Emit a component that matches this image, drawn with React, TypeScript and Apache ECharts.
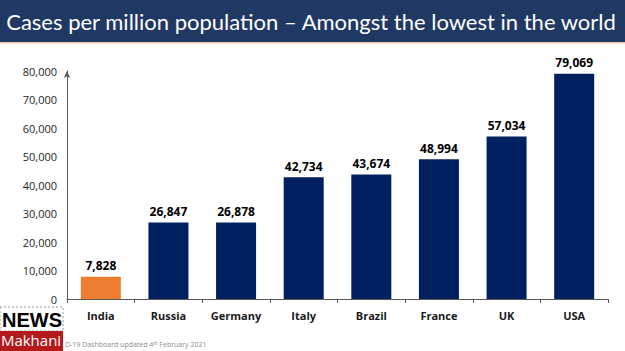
import React, { useEffect, useRef } from "react";
import * as echarts from "echarts";

const categories = ["India", "Russia", "Germany", "Italy", "Brazil", "France", "UK", "USA"];
const values = [7828, 26847, 26878, 42734, 43674, 48994, 57034, 79069];
const highlight = "India";
const titleText = "Cases per million population \u2013 Amongst the lowest in the world";

export default function App() {
  const ref = useRef<HTMLDivElement>(null);
  useEffect(() => {
    if (!ref.current) return;
    const chart = echarts.init(ref.current, undefined, { renderer: "svg" });
    chart.setOption({
      animation: false,
      backgroundColor: "#ffffff",
      grid: { left: 67, right: 17, top: 71, bottom: 52 },
      xAxis: {
        type: "category",
        data: categories,
        axisLine: { lineStyle: { color: "#595959", width: 1 } },
        axisTick: { show: true, length: 4, lineStyle: { color: "#595959" } },
        axisLabel: {
          color: "#1a1a1a",
          fontWeight: "bold",
          fontSize: 11,
          fontFamily: "Open Sans",
          margin: 11,
        },
      },
      yAxis: {
        type: "value",
        min: 0,
        max: 80000,
        interval: 10000,
        splitLine: { show: false },
        axisLine: {
          show: true,
          lineStyle: { color: "#595959", width: 1 },
          symbol: ["none", "arrow"],
          symbolSize: [5, 7],
        },
        axisTick: { show: false },
        axisLabel: {
          color: "#262626",
          fontSize: 11,
          fontFamily: "Open Sans",
          margin: 10,
          formatter: (v: number) => v.toLocaleString("en-US"),
        },
      },
      series: [
        {
          type: "bar",
          barWidth: 40,
          data: values.map((v, i) => ({
            value: v,
            itemStyle: { color: categories[i] === highlight ? "#ed7d31" : "#002060" },
          })),
          label: {
            show: true,
            position: "top",
            distance: 5,
            color: "#000000",
            fontWeight: "bold",
            fontSize: 12,
            fontFamily: "Open Sans",
            formatter: (p: any) => Number(p.value).toLocaleString("en-US"),
          },
        },
      ],
      graphic: [
        { type: "rect", shape: { x: 0, y: 0, width: 625, height: 42 }, style: { fill: "#1f3864" } },
        { type: "rect", shape: { x: 0, y: 42, width: 625, height: 1.5 }, style: { fill: "#f4c7a8" } },
        {
          type: "text",
          x: 311,
          y: 21,
          style: {
            text: titleText,
            fill: "#ffffff",
            fontSize: 22,
            fontFamily: "Lato",
            align: "center",
            verticalAlign: "middle",
          },
        },
        {
          type: "text",
          x: 65,
          y: 344,
          style: {
            text: "D-19 Dashboard updated 4{s|th} February 2021",
            fill: "#8c8c8c",
            fontSize: 7,
            fontFamily: "Open Sans",
            verticalAlign: "middle",
            rich: { s: { fontSize: 5, fill: "#8c8c8c", verticalAlign: "top", padding: [0, 0, 3, 0] } },
          },
        },
        { type: "rect", shape: { x: 0, y: 307, width: 63, height: 24 }, style: { fill: "#ffffff", stroke: "#999999", lineWidth: 1, lineDash: [2, 2] } },
        {
          type: "text",
          x: 32,
          y: 320,
          style: {
            text: "NEWS",
            fill: "#000000",
            fontSize: 20,
            fontWeight: "bold",
            fontFamily: "Liberation Sans",
            align: "center",
            verticalAlign: "middle",
          },
        },
        { type: "rect", shape: { x: 0, y: 331, width: 63, height: 20 }, style: { fill: "#b5191c" } },
        {
          type: "text",
          x: 31,
          y: 340,
          style: {
            text: "Makhani",
            fill: "#ffffff",
            fontSize: 15,
            fontFamily: "Open Sans",
            align: "center",
            verticalAlign: "middle",
          },
        },
      ],
    });
    return () => chart.dispose();
  }, []);
  return <div ref={ref} style={{ width: 625, height: 351, position: "fixed", left: 0, top: 0 }} />;
}
